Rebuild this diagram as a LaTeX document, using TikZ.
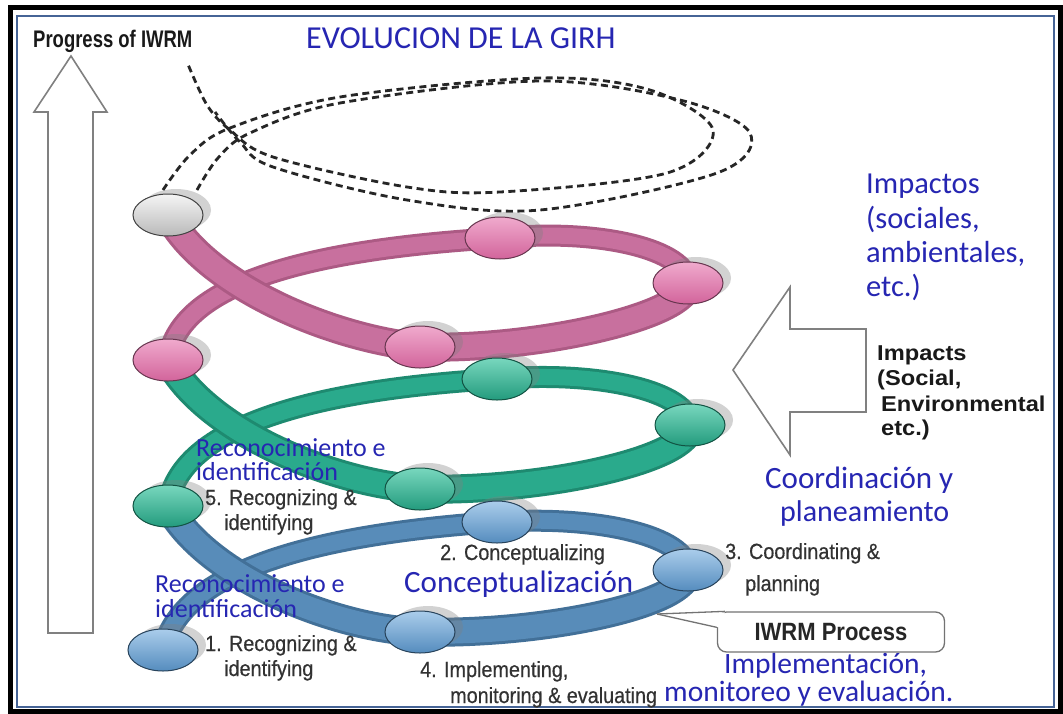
\documentclass[tikz,border=0pt]{standalone}
\usepackage{fontspec}
\setmainfont{Carlito}
\newfontfamily\lsprog[FakeStretch=0.77]{Liberation Sans}
\newfontfamily\lsnarrow[FakeStretch=0.88]{Liberation Sans}
\newfontfamily\lsreg[FakeStretch=0.9,FakeBold=0.5]{Liberation Sans}
\newfontfamily\lswide[FakeStretch=1.1]{Liberation Sans}
\usetikzlibrary{shapes.geometric,shadows}
\definecolor{girhblue}{RGB}{38,38,178}
\definecolor{lbl}{RGB}{50,50,50}
\definecolor{pkM}{RGB}{200,112,158}
\definecolor{pkD}{RGB}{172,90,132}
\definecolor{pkL}{RGB}{240,170,205}
\definecolor{pkB}{RGB}{210,100,155}
\definecolor{grM}{RGB}{42,170,140}
\definecolor{grD}{RGB}{30,138,112}
\definecolor{grL}{RGB}{120,215,190}
\definecolor{grB}{RGB}{35,155,125}
\definecolor{blM}{RGB}{88,140,185}
\definecolor{blD}{RGB}{66,112,152}
\definecolor{blL}{RGB}{170,205,235}
\definecolor{blB}{RGB}{85,140,190}
\definecolor{gyL}{RGB}{245,245,245}
\definecolor{gyB}{RGB}{185,185,185}
\definecolor{gyD}{RGB}{110,110,110}
\definecolor{frameblue}{RGB}{70,100,150}
\begin{document}
\begin{tikzpicture}[x=1pt,y=-1pt,
 ball/.style={ellipse, minimum width=70pt, minimum height=42pt, inner sep=0pt,
   draw=#1D!60!black, line width=1pt, top color=#1L, bottom color=#1B,
   drop shadow={shadow xshift=8pt, shadow yshift=5pt, opacity=0.35, fill=black!50}},
 backband/.style={draw=#1D, double=#1M, double distance=16pt, line width=3pt},
 frontband/.style={draw=#1D, double=#1M, double distance=23pt, line width=3pt},
 dashline/.style={draw=black!85, line width=2.8pt, dash pattern=on 7pt off 4.5pt},
 bt/.style={text=girhblue, anchor=base west, font=\fontsize{#1}{#1}\selectfont, inner sep=0pt},
 gt/.style={text=lbl, anchor=base west, font=\lsreg\fontsize{#1}{#1}\selectfont, inner sep=0pt},
 bk/.style={text=black!90, anchor=base west, font=\lswide\bfseries\fontsize{#1}{#1}\selectfont, inner sep=0pt},
 hollow/.style={draw=black!50, line width=1.6pt, fill=white, line join=miter},
 callout/.style={draw=black!55, line width=1.3pt, fill=white, rounded corners=9pt,
   minimum width=227pt, minimum height=40pt, inner sep=0pt,
   font=\lsnarrow\bfseries\fontsize{25}{25}\selectfont, text=black!85}
]
\useasboundingbox (0,0) rectangle (1063,713);
% frames
\fill[white] (0,0) rectangle (1063,713);
\draw[black, line width=5pt] (10,7.5) rectangle (1060.5,711);
\draw[frameblue, line width=2pt] (17,16) rectangle (1054,707);

% big up arrow
\draw[hollow] (48,633) -- (48,112) -- (34,112) -- (71,56) -- (107,112) -- (93,112) -- (93,633) -- cycle;

% impacts arrow
\draw[hollow] (866,329) -- (790,329) -- (790,287) -- (733,370) -- (790,455) -- (790,412) -- (866,412) -- cycle;

% ellipse positions
\coordinate (b1) at (163,650);
\coordinate (b2) at (497,522);
\coordinate (b3) at (688,570);
\coordinate (b4) at (420,632);
\coordinate (g1) at (168,506);
\coordinate (g2) at (497,379);
\coordinate (g3) at (690,425);
\coordinate (g4) at (420,489);
\coordinate (p1) at (168,360);
\coordinate (p2) at (500,238);
\coordinate (p3) at (688,283);
\coordinate (p4) at (420,347);
\coordinate (gy) at (168,215);

% dashed continuation
\draw[dashline] plot[smooth, tension=0.55] coordinates {(163,190) (190,155) (230,128) (340,97) (540,78) (650,90) (713,130) (667,173) (500,192) (407,187) (273,157) (230,130) (207,105) (187,62)};
\draw[dashline] plot[smooth, tension=0.55] coordinates {(197,190) (218,158) (250,133) (340,103) (540,81) (680,100) (750,133) (717,173) (540,210) (407,200) (273,167) (240,142) (215,112)};

% back arcs
\draw[backband=bl] (b1) .. controls (176,590) and (260,538) .. (b2) .. controls (600,515) and (688,537) .. (b3);
\draw[backband=gr] (g1) .. controls (176,445) and (260,393) .. (g2) .. controls (600,370) and (690,392) .. (g3);
\draw[backband=pk] (p1) .. controls (176,300) and (260,252) .. (p2) .. controls (600,228) and (688,250) .. (p3);
% front arcs
\draw[frontband=bl] (b3) .. controls (690,605) and (540,635) .. (b4) .. controls (330,628) and (205,575) .. (g1);
\draw[frontband=gr] (g3) .. controls (692,460) and (540,492) .. (g4) .. controls (330,483) and (205,430) .. (p1);
\draw[frontband=pk] (p3) .. controls (690,315) and (540,350) .. (p4) .. controls (330,338) and (205,285) .. (gy);

% ellipses
\node[ball=bl] (B1) at (b1) {};
\node[ball=bl] (B2) at (b2) {};
\node[ball=bl] (B3) at (b3) {};
\node[ball=bl] (B4) at (b4) {};
\node[ball=gr] (G1) at (g1) {};
\node[ball=gr] (G2) at (g2) {};
\node[ball=gr] (G3) at (g3) {};
\node[ball=gr] (G4) at (g4) {};
\node[ball=pk] (P1) at (p1) {};
\node[ball=pk] (P2) at (p2) {};
\node[ball=pk] (P3) at (p3) {};
\node[ball=pk] (P4) at (p4) {};
\node[ball=gy] (GY) at (gy) {};

% titles
\node[text=black!90, anchor=base west, font=\lsprog\bfseries\fontsize{24}{24}\selectfont, inner sep=0pt] (prog) at (33,47) {Progress of IWRM};
\node[bt=32] (evol) at (306,48) {EVOLUCION DE LA GIRH};

% Impactos
\node[bt=30.5] (imp1) at (866,193) {Impactos};
\node[bt=30.5] (imp2) at (866,228) {(sociales,};
\node[bt=30.5] (imp3) at (866,262) {ambientales,};
\node[bt=30.5] (imp4) at (866,296) {etc.)};

% Impacts
\node[bk=21.5] (ien1) at (877,360) {Impacts};
\node[bk=21.5] (ien2) at (877,385) {(Social,};
\node[bk=21.5] (ien3) at (881,411) {Environmental};
\node[bk=21.5] (ien4) at (881,435) {etc.)};

% upper recognizing
\node[bt=26] (rec1) at (196,456) {Reconocimiento e};
\node[bt=26] (rec2) at (196,480) {identificación};
\node[gt=22] (n5a) at (205,505) {5. Recognizing \&};
\node[gt=22] (n5b) at (224,530) {identifying};

% coordinating
\node[bt=31] (coo1) at (765,488) {Coordinación y};
\node[bt=30] (coo2) at (780,521) {planeamiento};
\node[gt=22] (n3a) at (725,559) {3. Coordinating \&};
\node[gt=22] (n3b) at (745,591) {planning};

% conceptualizing
\node[gt=22] (n2) at (440,560) {2. Conceptualizing};
\node[bt=31] (con) at (404,592) {Conceptualización};

% lower recognizing
\node[bt=26] (rec3) at (155,592) {Reconocimiento e};
\node[bt=26] (rec4) at (155,617) {identificación};
\node[gt=22] (n1a) at (205,651) {1. Recognizing \&};
\node[gt=22] (n1b) at (224,676) {identifying};

% implementing
\node[gt=22] (n4a) at (420,677) {4. Implementing,};
\node[gt=22] (n4b) at (450,703) {monitoring \& evaluating};
\node[bt=29.5] (imp5) at (724,673) {Implementación,};
\node[bt=29.5] (imp6) at (664,701) {monitoreo y evaluación.};

% callout
\node[callout] (proc) at (831,632) {IWRM Process};
\coordinate (tip) at (657,614);
\fill[white] (tip) -- ([xshift=8pt,yshift=-1pt]proc.north west) -- ([xshift=2pt,yshift=-16pt]proc.north west) -- cycle;
\draw[black!55, line width=1.3pt] (tip) -- ([xshift=8pt]proc.north west);
\draw[black!55, line width=1.3pt] (tip) -- ([yshift=-16pt]proc.north west);
\end{tikzpicture}
\end{document}
